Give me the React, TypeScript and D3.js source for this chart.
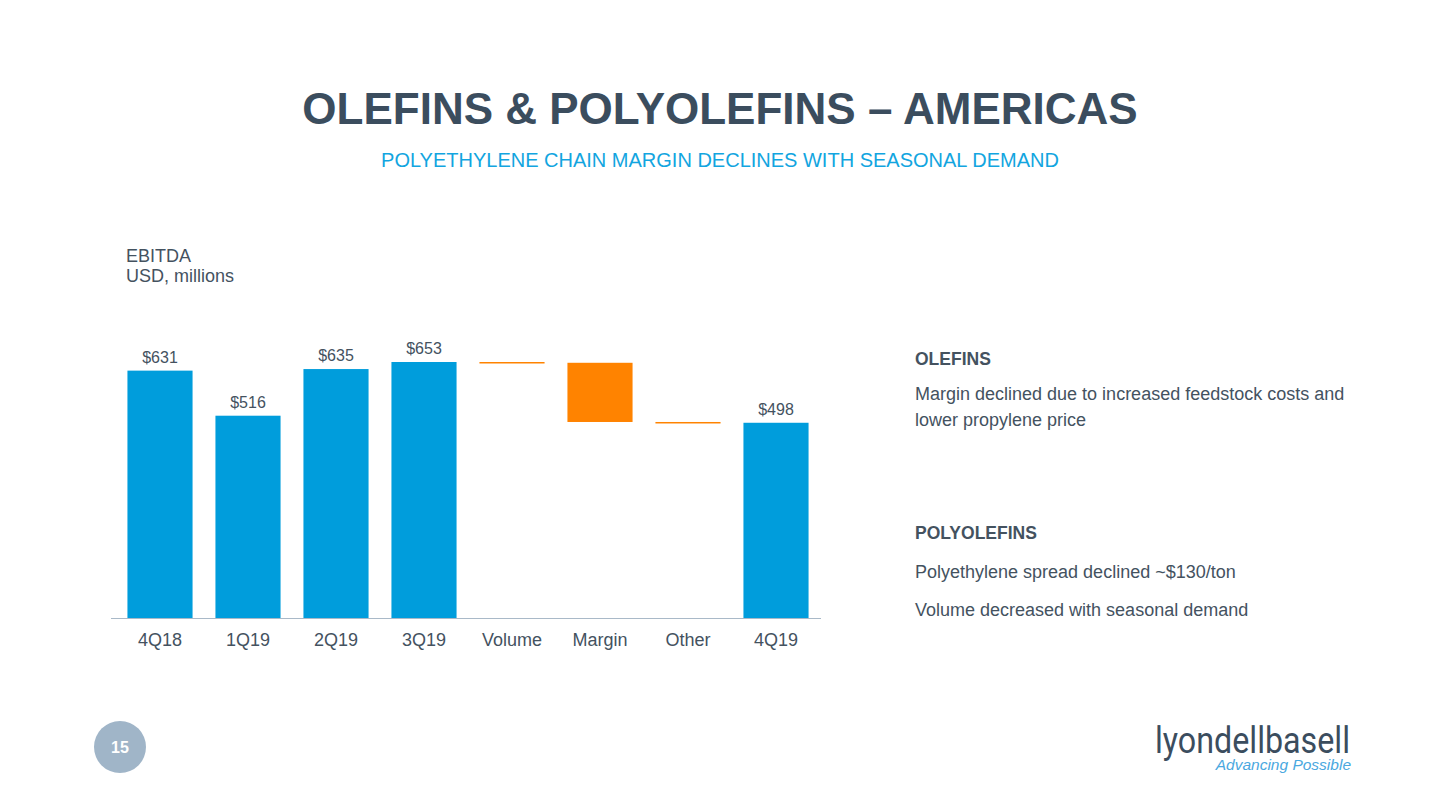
import React from "react";
import * as d3 from "d3";

const categories = ["4Q18", "1Q19", "2Q19", "3Q19", "Volume", "Margin", "Other", "4Q19"];
const kinds = ["total", "total", "total", "total", "delta", "delta", "delta", "total"];
const values = [631, 516, 635, 653, -2, -151, -2, 498];
const valueLabels = ["$631", "$516", "$635", "$653", "", "", "", "$498"];

const W = 1440;
const H = 810;
const FONT = "'Liberation Sans', Arial, sans-serif";
const BLUE = "#009ddc";
const ORANGE = "#ff8300";
const DARK = "#3b4d5e";
const TEXT = "#44525f";

export default function App() {
  const x = d3.scaleBand<string>().domain(categories).range([116, 820]).paddingInner(0.26).paddingOuter(0.13);
  const y = d3.scaleLinear().domain([0, 653]).range([618, 362]);

  let running = 0;
  const segs = categories.map((c, i) => {
    const v = values[i];
    let y0: number, y1: number;
    if (kinds[i] === "total") {
      y0 = 0;
      y1 = v;
      running = v;
    } else {
      y0 = running;
      y1 = running + v;
      running = y1;
    }
    return { c, i, lo: Math.min(y0, y1), hi: Math.max(y0, y1), kind: kinds[i] };
  });

  return (
    <svg width={W} height={H} style={{ position: "absolute", left: 0, top: 0, background: "#fff" }} fontFamily={FONT}>
      <rect x={0} y={0} width={W} height={H} fill="#fff" />
      <text x={720} y={124} textAnchor="middle" fontSize={44} fontWeight="bold" fill={DARK}>
        OLEFINS &amp; POLYOLEFINS – AMERICAS
      </text>
      <text x={720} y={167} textAnchor="middle" fontSize={20} fill="#12a5e0">
        POLYETHYLENE CHAIN MARGIN DECLINES WITH SEASONAL DEMAND
      </text>

      <text x={126} y={262} fontSize={18} fill={TEXT}>EBITDA</text>
      <text x={126} y={282} fontSize={18} fill={TEXT}>USD, millions</text>

      {segs.map((s) => {
        const bx = x(s.c)!;
        const bw = x.bandwidth();
        const top = y(s.hi);
        const h = Math.max(y(s.lo) - y(s.hi), 1.5);
        return (
          <rect key={s.c} x={bx} y={top} width={bw} height={h} fill={s.kind === "total" ? BLUE : ORANGE} />
        );
      })}
      {segs.map((s) =>
        valueLabels[s.i] ? (
          <text key={"l" + s.c} x={x(s.c)! + x.bandwidth() / 2} y={y(s.hi) - 8} textAnchor="middle" fontSize={16} fill={TEXT}>
            {valueLabels[s.i]}
          </text>
        ) : null
      )}

      <line x1={111} x2={821} y1={618.5} y2={618.5} stroke="#a9b9c8" strokeWidth={1.2} />
      {categories.map((c) => (
        <text key={"c" + c} x={x(c)! + x.bandwidth() / 2} y={646} textAnchor="middle" fontSize={18} fill={TEXT}>
          {c}
        </text>
      ))}

      <g fontSize={18} fill={TEXT}>
        <text x={915} y={365} fontWeight="bold" fontSize={17.5}>OLEFINS</text>
        <text x={915} y={400}>Margin declined due to increased feedstock costs and</text>
        <text x={915} y={426}>lower propylene price</text>
        <text x={915} y={539} fontWeight="bold" fontSize={17.5}>POLYOLEFINS</text>
        <text x={915} y={578}>Polyethylene spread declined ~$130/ton</text>
        <text x={915} y={616}>Volume decreased with seasonal demand</text>
      </g>

      <circle cx={120} cy={747} r={26} fill="#a0b5c8" />
      <text x={120} y={753} textAnchor="middle" fontSize={16} fontWeight="bold" fill="#fff">15</text>

      <text x={1155} y={753} fontSize={36} fill={DARK} fontFamily="Roboto, sans-serif" fontWeight={400} textLength={195} lengthAdjust="spacingAndGlyphs">
        lyondellbasell
      </text>
      <text x={1351} y={770} textAnchor="end" fontSize={15.5} fontStyle="italic" fill="#4aa8e0">
        Advancing Possible
      </text>
    </svg>
  );
}
